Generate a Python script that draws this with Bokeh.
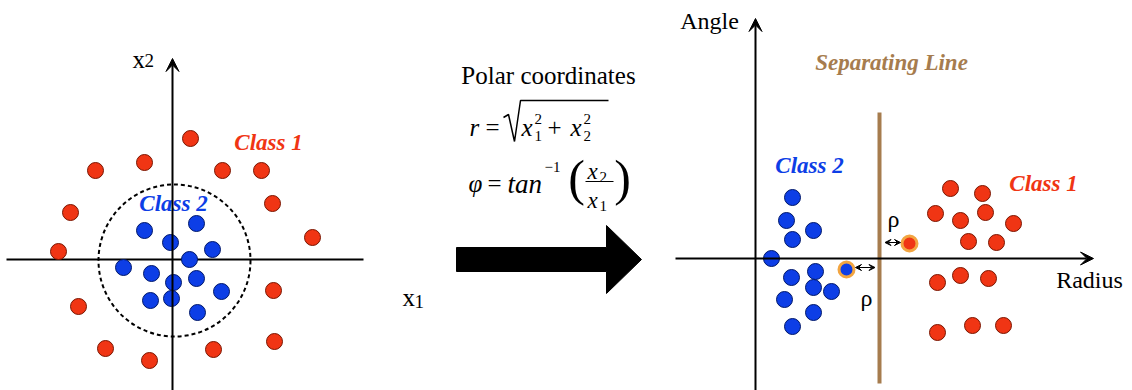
from bokeh.plotting import figure
from bokeh.layouts import row
from bokeh.models import Range1d, Arrow, VeeHead
from bokeh.core.properties import value
from bokeh.embed import file_html
from bokeh.resources import INLINE

# ---------------- data ----------------
# Left panel: Cartesian coordinates (x1, x2)
class1_x1 = [1.8, -2.8, -7.7, 5.0, 8.9, 10.0, -10.2, 14.0, -11.4, 10.1, -9.4, 10.2, -6.7, 4.1, -2.3]
class1_x2 = [12.1, 9.7, 8.9, 8.9, 8.9, 5.6, 4.7, 2.2, 0.8, -3.1, -4.7, -8.2, -8.9, -9.0, -10.1]
class2_x1 = [-2.8, 2.4, -0.2, 4.0, 1.7, -4.9, -2.1, 0.1, 2.4, 4.9, -2.2, -0.1, 2.5]
class2_x2 = [2.9, 3.6, 1.7, 1.0, 0.0, -0.8, -1.4, -2.3, -1.9, -3.2, -4.1, -3.9, -5.3]
boundary_center = (0.2, -0.1)
boundary_radius = 7.6

# Right panel: polar coordinates (radius, angle)
class1_r = [19.5, 22.7, 18.0, 23.0, 20.5, 25.8, 21.3, 24.1, 18.2, 20.5, 23.3, 18.2, 21.7, 24.8]
class1_a = [7.0, 6.5, 4.5, 4.6, 3.8, 3.5, 1.7, 1.6, -2.4, -1.7, -2.0, -7.4, -6.7, -6.7]
class2_r = [3.7, 3.1, 5.8, 3.7, 1.6, 3.6, 6.0, 5.8, 7.6, 2.9, 5.8, 3.7]
class2_a = [6.1, 3.8, 2.8, 1.9, 0.0, -1.9, -1.3, -2.9, -3.3, -4.1, -5.4, -6.8]
support1_r, support1_a = [15.4], [1.5]
support2_r, support2_a = [9.1], [-1.1]
separating_r = 12.4

RED = "#f03514"
RED_EDGE = "#7a1500"
BLUE = "#0d3ee6"
BLUE_EDGE = "#00186a"
ORANGE = "#f2a541"
TAN = "#a67c4e"
SERIF = value("'Liberation Serif', 'Times New Roman', serif")
H = 390


def make(width, xr, yr):
    p = figure(width=width, height=H, x_range=Range1d(*xr), y_range=Range1d(*yr),
               output_backend="svg", toolbar_location=None, min_border=0,
               x_axis_location=None, y_axis_location=None)
    p.xgrid.visible = False
    p.ygrid.visible = False
    p.outline_line_color = None
    p.background_fill_color = "white"
    p.border_fill_color = "white"
    return p


def txt(p, x, y, s, size, color="black", style="normal", align="left", baseline="alphabetic"):
    p.text(x=[x], y=[y], text=[s], text_font=SERIF, text_font_size=value(f"{size}px"),
           text_color=color, text_font_style=style, text_align=align, text_baseline=baseline)


# ---------------- left panel ----------------
L = make(430, (-17.2, 25.8), (-13.1, 25.9))
L.line(x=[-16.6, 19.1], y=[0, 0], line_color="black", line_width=2)
L.add_layout(Arrow(end=VeeHead(size=13, fill_color="black", line_color="black"),
                   x_start=0, y_start=-14, x_end=0, y_end=20.1, line_width=2, line_color="black"))
L.circle(x=[boundary_center[0]], y=[boundary_center[1]], radius=boundary_radius,
         fill_color=None, line_color="black", line_width=2, line_dash="4 3")
L.scatter(class1_x1, class1_x2, size=16, fill_color=RED, line_color=RED_EDGE, line_width=1)
L.scatter(class2_x1, class2_x2, size=16, fill_color=BLUE, line_color=BLUE_EDGE, line_width=1)
txt(L, -4.0, 20.0, "x", 25)
txt(L, -2.8, 19.9, "2", 19)
txt(L, 23.0, -3.8, "x", 25)
txt(L, 24.2, -4.2, "1", 19)
txt(L, 9.6, 11.7, "Class 1", 23, RED, "bold italic", "center", "middle")
txt(L, 0.1, 5.6, "Class 2", 23, BLUE, "bold italic", "center", "middle")

# ---------------- middle panel (image-like pixel coordinates) ----------------
M = make(220, (430, 650), (390, 0))
txt(M, 548, 75, "Polar coordinates", 25, align="center", baseline="middle")
# r = sqrt(x1^2 + x2^2)
txt(M, 469, 127, "r", 25, style="italic")
txt(M, 485, 127, "=", 25)
M.line(x=[503, 508, 514, 520, 608], y=[117, 114, 141, 100, 100], line_color="black", line_width=1.5)
txt(M, 521, 127, "x", 25, style="italic")
txt(M, 534, 118, "2", 15)
txt(M, 534, 135, "1", 15)
txt(M, 547, 127, "+", 25)
txt(M, 570, 127, "x", 25, style="italic")
txt(M, 583, 118, "2", 15)
txt(M, 583, 135, "2", 15)
# phi = tan^-1 (x2/x1)
txt(M, 468, 183, "φ", 25, style="italic")
txt(M, 487, 183, "=", 25)
txt(M, 507, 183, "tan", 27, style="italic")
txt(M, 544, 166, "−1", 15)
txt(M, 576, 177, "(", 50, align="center", baseline="middle")
txt(M, 622, 177, ")", 50, align="center", baseline="middle")
txt(M, 587, 171, "x", 23, style="italic")
txt(M, 599, 176, "2", 15)
M.line(x=[585, 613], y=[181, 181], line_color="black", line_width=1.2)
txt(M, 587, 200, "x", 23, style="italic")
txt(M, 599, 205, "1", 15)
M.patch(x=[456, 606, 606, 641, 606, 606, 456], y=[247, 247, 225, 259, 293, 271, 271],
        fill_color="black", line_color="black")

# ---------------- right panel ----------------
R = make(482, (-10.5, 37.7), (-13.2, 25.8))
R.add_layout(Arrow(end=VeeHead(size=13, fill_color="black", line_color="black"),
                   x_start=-8.0, y_start=0, x_end=33.8, y_end=0, line_width=2, line_color="black"))
R.add_layout(Arrow(end=VeeHead(size=13, fill_color="black", line_color="black"),
                   x_start=0, y_start=-14, x_end=0, y_end=24.0, line_width=2, line_color="black"))
R.line(x=[separating_r, separating_r], y=[-12.5, 14.6], line_color=TAN, line_width=4)
R.scatter(class2_r, class2_a, size=16, fill_color=BLUE, line_color=BLUE_EDGE, line_width=1)
R.scatter(class1_r, class1_a, size=16, fill_color=RED, line_color=RED_EDGE, line_width=1)
R.scatter(support2_r, support2_a, size=15, fill_color=BLUE, line_color=ORANGE, line_width=3)
R.scatter(support1_r, support1_a, size=15, fill_color=RED, line_color=ORANGE, line_width=3)
head = dict(size=6, fill_color="black", line_color="black")
R.add_layout(Arrow(start=VeeHead(**head), end=VeeHead(**head),
                   x_start=separating_r + 0.55, y_start=1.6, x_end=support1_r[0] - 0.9, y_end=1.6,
                   line_width=1.2, line_color="black"))
R.add_layout(Arrow(start=VeeHead(**head), end=VeeHead(**head),
                   x_start=support2_r[0] + 0.9, y_start=-0.9, x_end=separating_r - 0.45, y_end=-0.9,
                   line_width=1.2, line_color="black"))
txt(R, 13.8, 4.0, "ρ", 24, align="center", baseline="middle")
txt(R, 11.1, -3.9, "ρ", 24, align="center", baseline="middle")
txt(R, -4.6, 23.8, "Angle", 24, align="center", baseline="middle")
txt(R, 33.4, -2.15, "Radius", 24, align="center", baseline="middle")
txt(R, 13.6, 19.6, "Separating Line", 23, TAN, "bold italic", "center", "middle")
txt(R, 5.4, 9.3, "Class 2", 23, BLUE, "bold italic", "center", "middle")
txt(R, 28.8, 7.5, "Class 1", 23, RED, "bold italic", "center", "middle")

layout = row(L, M, R, spacing=0)
open("out.html", "w").write(file_html(layout, INLINE))
